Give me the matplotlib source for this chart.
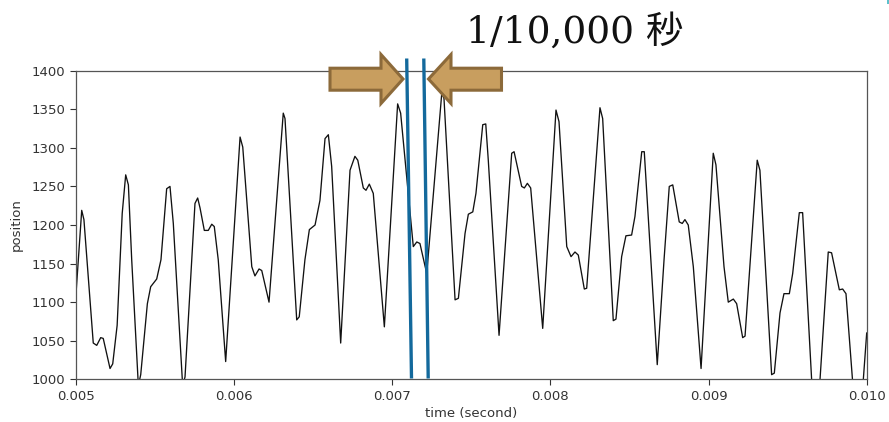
import matplotlib
matplotlib.use("Agg")
import matplotlib.pyplot as plt
from matplotlib.patches import Polygon

# ---- data ----
time_s = [0.005000, 0.005038, 0.005052, 0.005111, 0.005133, 0.005158, 0.005174,
          0.005217, 0.005234, 0.005262, 0.005294, 0.005316, 0.005333, 0.005354,
          0.005396, 0.005411, 0.005453, 0.005474, 0.005512, 0.005539, 0.005575,
          0.005596, 0.005617, 0.005676, 0.005691, 0.005754, 0.005771, 0.005786,
          0.005813, 0.005838, 0.005860, 0.005876, 0.005901, 0.005948, 0.006039,
          0.006056, 0.006113, 0.006133, 0.006159, 0.006176, 0.006222, 0.006312,
          0.006323, 0.006397, 0.006413, 0.006449, 0.006477, 0.006513, 0.006544,
          0.006576, 0.006597, 0.006618, 0.006675, 0.006734, 0.006765, 0.006783,
          0.006818, 0.006835, 0.006856, 0.006881, 0.006951, 0.007035, 0.007054,
          0.007134, 0.007156, 0.007176, 0.007219, 0.007314, 0.007328, 0.007398,
          0.007419, 0.007461, 0.007482, 0.007510, 0.007530, 0.007573, 0.007592,
          0.007608, 0.007676, 0.007756, 0.007771, 0.007819, 0.007836, 0.007855,
          0.007876, 0.007952, 0.008036, 0.008055, 0.008104, 0.008131, 0.008156,
          0.008177, 0.008215, 0.008230, 0.008314, 0.008331, 0.008398, 0.008415,
          0.008451, 0.008478, 0.008514, 0.008535, 0.008578, 0.008594, 0.008676,
          0.008719, 0.008752, 0.008774, 0.008815, 0.008834, 0.008851, 0.008872,
          0.008904, 0.008953, 0.009030, 0.009047, 0.009098, 0.009125, 0.009157,
          0.009178, 0.009216, 0.009231, 0.009308, 0.009325, 0.009399, 0.009416,
          0.009452, 0.009477, 0.009511, 0.009532, 0.009574, 0.009595, 0.009676,
          0.009757, 0.009778, 0.009827, 0.009848, 0.009869, 0.009945, 0.010000]
position = [1105, 1219, 1207, 1047, 1044, 1054, 1053,
            1014, 1020, 1070, 1215, 1265, 1252, 1155,
            992, 1006, 1098, 1120, 1130, 1155, 1247,
            1250, 1202, 992, 1003, 1228, 1235, 1222,
            1193, 1193, 1201, 1198, 1155, 1023, 1314,
            1301, 1146, 1134, 1143, 1141, 1100, 1345,
            1338, 1077, 1081, 1155, 1194, 1200, 1232,
            1312, 1317, 1276, 1047, 1271, 1289, 1284,
            1248, 1245, 1253, 1241, 1068, 1357, 1345,
            1172, 1178, 1176, 1137, 1371, 1364, 1103,
            1105, 1189, 1214, 1217, 1241, 1330, 1331,
            1284, 1057, 1293, 1295, 1250, 1248, 1254,
            1248, 1066, 1349, 1334, 1172, 1159, 1165,
            1161, 1117, 1118, 1352, 1338, 1076, 1078,
            1159, 1186, 1187, 1211, 1295, 1295, 1019,
            1155, 1250, 1252, 1204, 1202, 1207, 1200,
            1146, 1014, 1293, 1278, 1146, 1100, 1104,
            1098, 1054, 1056, 1284, 1271, 1006, 1008,
            1086, 1111, 1111, 1137, 1216, 1216, 908,
            1165, 1164, 1116, 1117, 1111, 905, 1060]

x_ticks = [0.005, 0.006, 0.007, 0.008, 0.009, 0.010]
x_tick_labels = ["0.005", "0.006", "0.007", "0.008", "0.009", "0.010"]
y_ticks = [1000, 1050, 1100, 1150, 1200, 1250, 1300, 1350, 1400]
x_label = "time (second)"
y_label = "position"
note_text = "1/10,000 秒"

W, H = 889, 422
fig = plt.figure(figsize=(W / 100, H / 100), dpi=100)
ax = fig.add_axes([75.7 / W, 1 - 379.3 / H, (866.7 - 75.7) / W, (379.3 - 70.7) / H])
ax.plot(time_s, position, color="#111111", lw=0.95)
ax.set_xlim(0.005, 0.010)
ax.set_ylim(1000, 1400)
ax.set_xticks(x_ticks)
ax.set_xticklabels(x_tick_labels)
ax.set_yticks(y_ticks)
ax.tick_params(labelsize=9.5, colors="#333333", length=4, width=0.8)
for s in ax.spines.values():
    s.set_color("#555555")
    s.set_linewidth(0.9)
ax.set_xlabel(x_label, fontsize=9.5, color="#333333", labelpad=3)
ax.set_ylabel(y_label, fontsize=9.5, color="#333333", labelpad=6)

# ---- overlay in pixel coordinates for annotations ----
ov = fig.add_axes([0, 0, 1, 1])
ov.set_xlim(0, W)
ov.set_ylim(H, 0)
ov.axis("off")
ov.patch.set_alpha(0)

blue = "#13699c"
ov.plot([406.7, 411.5], [58.5, 378.5], color=blue, lw=2.4, solid_capstyle="butt")
ov.plot([423.8, 428.2], [58.5, 378.5], color=blue, lw=2.4, solid_capstyle="butt")

fill_c = "#c89e5f"
edge_c = "#8c6a3a"
left_arrow = [(330, 68.2), (381, 68.2), (381, 54.5), (403, 79), (381, 103.5),
              (381, 90.2), (330, 90.2)]
right_arrow = [(501.5, 68.2), (451, 68.2), (451, 54.5), (428.5, 79), (451, 103.5),
               (451, 90.2), (501.5, 90.2)]
for pts in (left_arrow, right_arrow):
    ov.add_patch(Polygon(pts, closed=True, facecolor=fill_c, edgecolor=edge_c,
                         lw=2.2, joinstyle="miter"))

ov.text(466, 43, note_text, fontsize=27, color="#111111", ha="left", va="baseline",
        family=["DejaVu Serif", "Noto Sans CJK JP"])

# small teal mark at the top-right corner of the slide
ov.plot([887.8, 887.8], [0, 4], color="#3ab5c4", lw=1.2, solid_capstyle="butt")

fig.savefig("out.png", dpi=100)
